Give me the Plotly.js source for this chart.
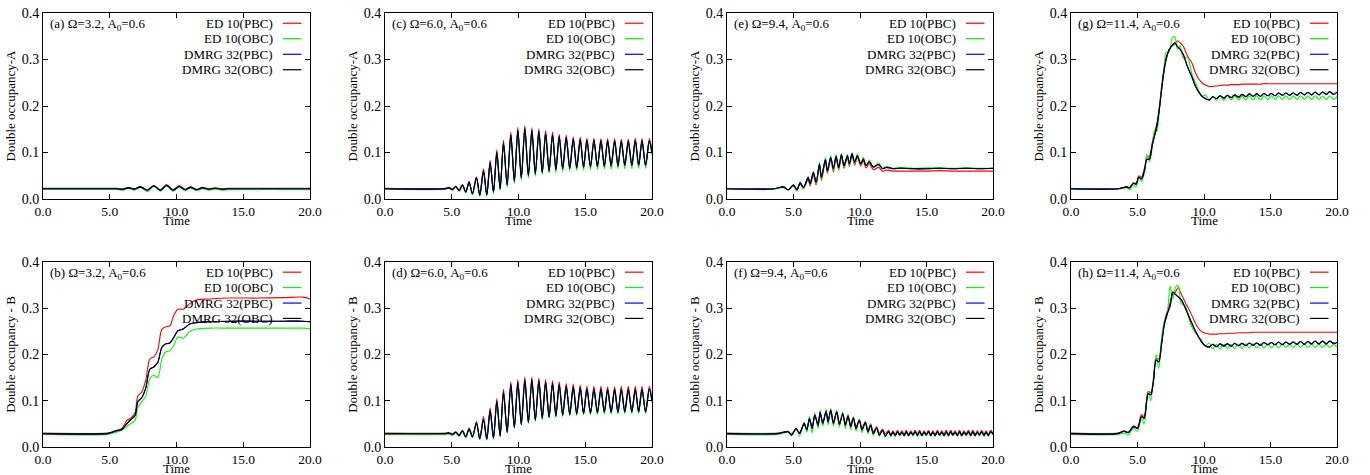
<!DOCTYPE html>
<html>
<head>
<meta charset="utf-8">
<script src="https://cdn.plot.ly/plotly-3.0.1.min.js"></script>
<style>html,body{margin:0;padding:0;background:#fff;}#chart{width:1370px;height:475px;}</style>
</head>
<body>
<div id="chart"></div>
<script>
// ---------- series names ----------
const seriesNames = ['ED 10(PBC)', 'ED 10(OBC)', 'DMRG 32(PBC)', 'DMRG 32(OBC)'];
const seriesColors = ['#ff0000', '#00ff00', '#0000ff', '#000000'];
const xTickVals = [0, 5, 10, 15, 20];
const xTickText = ['0.0', '5.0', '10.0', '15.0', '20.0'];
const yTickVals = [0, 0.1, 0.2, 0.3, 0.4];
const yTickText = ['0.0', '0.1', '0.2', '0.3', '0.4'];

// ---------- (a) Omega=3.2, A ----------
const tA = [0, 5.0, 5.5, 6.0, 6.4, 6.85, 7.3, 7.8, 8.3, 8.8, 9.25, 9.75, 10.2, 10.65, 11.05, 11.5, 11.95, 12.4, 12.9, 13.4, 13.9, 14.5, 15.0, 16.0, 17.0, 18.0, 19.0, 20.0];
const edPBC_a = [0.023, 0.023, 0.023, 0.022, 0.025, 0.022, 0.027, 0.020, 0.029, 0.020, 0.031, 0.020, 0.029, 0.021, 0.026, 0.021, 0.025, 0.022, 0.024, 0.022, 0.023, 0.023, 0.023, 0.023, 0.023, 0.023, 0.023, 0.023];
const edOBC_a = [0.021, 0.021, 0.021, 0.019, 0.023, 0.019, 0.025, 0.016, 0.027, 0.017, 0.028, 0.017, 0.026, 0.018, 0.024, 0.018, 0.022, 0.019, 0.021, 0.019, 0.020, 0.020, 0.020, 0.020, 0.021, 0.020, 0.020, 0.020];
const dmrgOBC_a = [0.022, 0.022, 0.022, 0.021, 0.024, 0.021, 0.026, 0.019, 0.028, 0.019, 0.029, 0.019, 0.027, 0.020, 0.025, 0.020, 0.024, 0.021, 0.023, 0.021, 0.022, 0.022, 0.022, 0.022, 0.022, 0.022, 0.022, 0.022];
const dmrgPBC_a = dmrgOBC_a;

// ---------- (b) Omega=3.2, B ----------
const tB = [0, 4.8, 5.2, 5.5, 5.9, 6.3, 6.6, 6.9, 7.1, 7.4, 7.7, 8.0, 8.3, 8.6, 8.9, 9.2, 9.5, 9.8, 10.1, 10.5, 11.0, 11.5, 12.5, 14.0, 16.0, 18.0, 19.5, 20.0];
const edPBC_b = [0.030, 0.030, 0.033, 0.036, 0.040, 0.058, 0.063, 0.075, 0.110, 0.119, 0.145, 0.190, 0.195, 0.210, 0.255, 0.260, 0.262, 0.285, 0.298, 0.298, 0.310, 0.318, 0.320, 0.322, 0.322, 0.323, 0.324, 0.320];
const edOBC_b = [0.027, 0.027, 0.030, 0.032, 0.036, 0.045, 0.051, 0.058, 0.085, 0.098, 0.110, 0.148, 0.155, 0.150, 0.190, 0.206, 0.208, 0.220, 0.238, 0.235, 0.250, 0.255, 0.257, 0.257, 0.257, 0.257, 0.257, 0.256];
const dmrgOBC_b = [0.029, 0.029, 0.032, 0.035, 0.038, 0.051, 0.060, 0.068, 0.098, 0.107, 0.128, 0.168, 0.173, 0.183, 0.215, 0.223, 0.225, 0.237, 0.251, 0.255, 0.266, 0.269, 0.271, 0.272, 0.272, 0.272, 0.272, 0.271];
const dmrgPBC_b = dmrgOBC_b;

// ---------- (c) Omega=6.0, A  and (d) Omega=6.0, B ----------
const tCD = [0, 4.5, 4.8, 5.05, 5.3, 5.55, 5.8, 6.05, 6.3, 6.55, 6.85, 7.1,
  7.375, 7.625, 7.875, 8.125, 8.375, 8.625, 8.875, 9.15, 9.425, 9.69, 9.95, 10.21, 10.475, 10.74, 11.0, 11.26, 11.525, 11.78,
  12.03, 12.29, 12.55, 12.8, 13.05, 13.31, 13.575, 13.84, 14.1, 14.36, 14.625, 14.875, 15.125, 15.39, 15.65, 15.91, 16.175, 16.43,
  16.675, 16.94, 17.2, 17.45, 17.7, 17.96, 18.225, 18.49, 18.75, 19.0, 19.25, 19.52, 19.8, 20.0];
const edPBC_c = [0.023, 0.023, 0.025, 0.021, 0.028, 0.019, 0.031, 0.016, 0.038, 0.012, 0.048, 0.009,
  0.065, 0.010, 0.083, 0.016, 0.106, 0.023, 0.126, 0.031, 0.144, 0.039, 0.154, 0.046, 0.158, 0.051, 0.153, 0.055, 0.151, 0.058,
  0.147, 0.061, 0.144, 0.064, 0.139, 0.066, 0.137, 0.067, 0.134, 0.068, 0.133, 0.069, 0.131, 0.070, 0.131, 0.071, 0.130, 0.071,
  0.130, 0.072, 0.130, 0.072, 0.129, 0.073, 0.129, 0.073, 0.131, 0.073, 0.130, 0.073, 0.130, 0.104];
const edOBC_c = [0.021, 0.021, 0.023, 0.019, 0.026, 0.017, 0.029, 0.013, 0.034, 0.009, 0.044, 0.006,
  0.057, 0.006, 0.074, 0.012, 0.096, 0.018, 0.116, 0.025, 0.134, 0.033, 0.144, 0.040, 0.147, 0.045, 0.143, 0.049, 0.141, 0.052,
  0.137, 0.055, 0.134, 0.057, 0.130, 0.059, 0.128, 0.060, 0.125, 0.061, 0.124, 0.062, 0.122, 0.063, 0.122, 0.063, 0.121, 0.064,
  0.121, 0.064, 0.121, 0.065, 0.120, 0.065, 0.120, 0.065, 0.122, 0.066, 0.121, 0.066, 0.121, 0.094];
const dmrgOBC_c = [0.022, 0.022, 0.024, 0.020, 0.027, 0.018, 0.030, 0.015, 0.036, 0.011, 0.046, 0.008,
  0.060, 0.009, 0.078, 0.015, 0.100, 0.022, 0.120, 0.030, 0.138, 0.038, 0.148, 0.045, 0.151, 0.050, 0.147, 0.054, 0.145, 0.057,
  0.141, 0.060, 0.138, 0.063, 0.134, 0.065, 0.132, 0.066, 0.129, 0.067, 0.128, 0.068, 0.126, 0.069, 0.126, 0.070, 0.125, 0.070,
  0.125, 0.071, 0.125, 0.071, 0.124, 0.072, 0.124, 0.072, 0.126, 0.072, 0.125, 0.072, 0.125, 0.100];
const dmrgPBC_c = dmrgOBC_c;

const edPBC_d = [0.030, 0.030, 0.031, 0.028, 0.033, 0.026, 0.036, 0.023, 0.041, 0.023, 0.055, 0.019,
  0.066, 0.018, 0.085, 0.020, 0.105, 0.025, 0.125, 0.033, 0.141, 0.043, 0.146, 0.050, 0.151, 0.054, 0.151, 0.059, 0.149, 0.063,
  0.146, 0.066, 0.143, 0.068, 0.141, 0.070, 0.137, 0.071, 0.136, 0.072, 0.134, 0.073, 0.132, 0.074, 0.131, 0.075, 0.131, 0.076,
  0.130, 0.076, 0.130, 0.076, 0.131, 0.077, 0.131, 0.077, 0.131, 0.077, 0.131, 0.077, 0.132, 0.104];
const edOBC_d = [0.027, 0.027, 0.028, 0.025, 0.030, 0.023, 0.033, 0.020, 0.037, 0.020, 0.050, 0.016,
  0.057, 0.015, 0.075, 0.017, 0.095, 0.022, 0.115, 0.030, 0.131, 0.040, 0.136, 0.047, 0.141, 0.051, 0.141, 0.056, 0.139, 0.059,
  0.136, 0.062, 0.133, 0.064, 0.131, 0.066, 0.127, 0.067, 0.126, 0.068, 0.124, 0.069, 0.122, 0.070, 0.121, 0.070, 0.121, 0.071,
  0.120, 0.071, 0.120, 0.071, 0.121, 0.072, 0.121, 0.072, 0.121, 0.072, 0.121, 0.072, 0.122, 0.096];
const dmrgOBC_d = [0.029, 0.029, 0.030, 0.027, 0.032, 0.025, 0.035, 0.022, 0.039, 0.022, 0.052, 0.018,
  0.060, 0.017, 0.079, 0.019, 0.099, 0.024, 0.119, 0.032, 0.135, 0.042, 0.140, 0.049, 0.145, 0.053, 0.145, 0.058, 0.143, 0.062,
  0.140, 0.065, 0.137, 0.067, 0.135, 0.069, 0.131, 0.070, 0.130, 0.071, 0.128, 0.072, 0.126, 0.073, 0.125, 0.074, 0.125, 0.075,
  0.124, 0.075, 0.124, 0.075, 0.125, 0.076, 0.125, 0.076, 0.125, 0.076, 0.125, 0.076, 0.126, 0.100];
const dmrgPBC_d = dmrgOBC_d;

// ---------- (e) Omega=9.4, A ----------
const tE = [0, 3.5, 4.25, 4.6, 5.0, 5.25, 5.5, 5.75, 6.1, 6.25, 6.5, 6.7, 6.95, 7.1, 7.4, 7.55, 7.8, 8.0, 8.2, 8.4,
  8.6, 8.8, 9.05, 9.2, 9.4, 9.6, 9.8, 10.05, 10.25, 10.45, 10.7, 11.0, 11.4, 11.7, 12.0, 12.5, 13.0, 14.0, 15.0, 16.0,
  17.0, 18.0, 19.0, 20.0];
const edPBC_e = [0.022, 0.022, 0.025, 0.020, 0.028, 0.019, 0.032, 0.022, 0.042, 0.028, 0.052, 0.030, 0.070, 0.040, 0.080, 0.055, 0.085, 0.058, 0.088, 0.062,
  0.092, 0.066, 0.090, 0.070, 0.094, 0.073, 0.090, 0.071, 0.082, 0.067, 0.076, 0.063, 0.068, 0.060, 0.062, 0.060, 0.060, 0.060, 0.060, 0.061,
  0.060, 0.060, 0.060, 0.060];
const edOBC_e = [0.022, 0.021, 0.026, 0.019, 0.031, 0.017, 0.037, 0.022, 0.049, 0.030, 0.060, 0.032, 0.079, 0.042, 0.089, 0.057, 0.093, 0.060, 0.096, 0.063,
  0.098, 0.068, 0.096, 0.072, 0.100, 0.075, 0.097, 0.074, 0.090, 0.071, 0.084, 0.068, 0.078, 0.066, 0.070, 0.066, 0.068, 0.066, 0.067, 0.067,
  0.066, 0.067, 0.066, 0.066];
const dmrgOBC_e = [0.022, 0.022, 0.026, 0.020, 0.030, 0.020, 0.035, 0.025, 0.046, 0.033, 0.057, 0.036, 0.075, 0.047, 0.085, 0.061, 0.089, 0.065, 0.092, 0.068,
  0.095, 0.072, 0.093, 0.076, 0.097, 0.079, 0.093, 0.076, 0.086, 0.072, 0.080, 0.069, 0.074, 0.065, 0.068, 0.065, 0.066, 0.065, 0.065, 0.066,
  0.065, 0.066, 0.065, 0.066];
const dmrgPBC_e = dmrgOBC_e;

// ---------- (f) Omega=9.4, B ----------
const tF = [0, 3.8, 4.6, 4.85, 5.2, 5.45, 5.8, 6.0, 6.2, 6.4, 6.6, 6.85, 7.0, 7.2, 7.45, 7.6, 7.8, 8.0, 8.25, 8.45,
  8.7, 8.9, 9.1, 9.3, 9.5, 9.7, 9.95, 10.15, 10.4, 10.6, 10.8, 11.0, 11.25, 11.45, 11.7, 11.9,
  12.15, 12.32, 12.48, 12.65, 12.82, 12.98, 13.15, 13.32, 13.48, 13.65, 13.82, 13.98, 14.15, 14.32, 14.48, 14.65, 14.82, 14.98,
  15.15, 15.32, 15.48, 15.65, 15.82, 15.98, 16.15, 16.32, 16.48, 16.65, 16.82, 16.98, 17.15, 17.32, 17.48, 17.65, 17.82, 17.98,
  18.15, 18.32, 18.48, 18.65, 18.82, 18.98, 19.15, 19.32, 19.48, 19.65, 19.82, 20.0];
const edPBC_f = [0.030, 0.030, 0.034, 0.028, 0.038, 0.031, 0.047, 0.040, 0.058, 0.044, 0.066, 0.051, 0.072, 0.055, 0.075, 0.058, 0.078, 0.055, 0.075, 0.053,
  0.071, 0.051, 0.067, 0.048, 0.063, 0.044, 0.059, 0.041, 0.055, 0.037, 0.050, 0.033, 0.044, 0.030, 0.039, 0.028,
  0.036, 0.027, 0.035, 0.027, 0.036, 0.028, 0.035, 0.027, 0.036, 0.027, 0.035, 0.028, 0.036, 0.027, 0.036, 0.027, 0.035, 0.028,
  0.036, 0.027, 0.035, 0.027, 0.036, 0.028, 0.035, 0.027, 0.036, 0.027, 0.036, 0.028, 0.035, 0.027, 0.036, 0.027, 0.035, 0.028,
  0.036, 0.027, 0.036, 0.027, 0.035, 0.028, 0.036, 0.027, 0.035, 0.027, 0.036, 0.030];
const edOBC_f = [0.027, 0.027, 0.032, 0.024, 0.041, 0.024, 0.054, 0.032, 0.066, 0.030, 0.074, 0.040, 0.080, 0.045, 0.082, 0.048, 0.083, 0.045, 0.080, 0.043,
  0.076, 0.040, 0.071, 0.037, 0.066, 0.034, 0.061, 0.031, 0.055, 0.028, 0.049, 0.025, 0.043, 0.023, 0.037, 0.022,
  0.032, 0.023, 0.031, 0.023, 0.032, 0.024, 0.031, 0.023, 0.032, 0.023, 0.031, 0.024, 0.032, 0.023, 0.032, 0.023, 0.031, 0.024,
  0.032, 0.023, 0.031, 0.023, 0.032, 0.024, 0.031, 0.023, 0.032, 0.023, 0.032, 0.024, 0.031, 0.023, 0.032, 0.023, 0.031, 0.024,
  0.032, 0.023, 0.032, 0.023, 0.031, 0.024, 0.032, 0.023, 0.031, 0.023, 0.032, 0.026];
const dmrgOBC_f = [0.029, 0.029, 0.033, 0.026, 0.040, 0.029, 0.051, 0.037, 0.062, 0.040, 0.069, 0.047, 0.075, 0.051, 0.077, 0.054, 0.080, 0.051, 0.076, 0.049,
  0.072, 0.047, 0.067, 0.044, 0.063, 0.040, 0.058, 0.037, 0.053, 0.033, 0.047, 0.029, 0.041, 0.026, 0.036, 0.024,
  0.033, 0.025, 0.032, 0.025, 0.033, 0.026, 0.032, 0.025, 0.033, 0.025, 0.032, 0.026, 0.033, 0.025, 0.033, 0.025, 0.032, 0.026,
  0.033, 0.025, 0.032, 0.025, 0.033, 0.026, 0.032, 0.025, 0.033, 0.025, 0.033, 0.026, 0.032, 0.025, 0.033, 0.025, 0.032, 0.026,
  0.033, 0.025, 0.033, 0.025, 0.032, 0.026, 0.033, 0.025, 0.032, 0.025, 0.033, 0.028];
const dmrgPBC_f = dmrgOBC_f;

// ---------- (g) Omega=11.4, A ----------
const tG = [0, 3.5, 4.2, 4.4, 4.7, 4.9, 5.1, 5.3, 5.55, 5.7, 5.9, 6.1, 6.3, 6.45, 6.65, 6.8, 6.95, 7.15, 7.4, 7.6,
  7.8, 8.0, 8.2, 8.45, 8.75, 9.1, 9.35, 9.6, 9.85, 10.1, 10.4,
  10.65, 10.95, 11.2, 11.5, 11.75, 12.05, 12.3, 12.6, 12.85, 13.15, 13.4, 13.7, 13.95, 14.25, 14.5, 14.8, 15.05, 15.35, 15.6, 15.9,
  16.15, 16.45, 16.7, 17.0, 17.25, 17.55, 17.8, 18.1, 18.35, 18.65, 18.9, 19.2, 19.45, 19.75, 20.0];
const edPBC_g = [0.022, 0.022, 0.026, 0.025, 0.035, 0.034, 0.050, 0.047, 0.070, 0.090, 0.092, 0.120, 0.145, 0.162, 0.200, 0.238, 0.272, 0.305, 0.322, 0.330,
  0.332, 0.340, 0.336, 0.328, 0.308, 0.292, 0.272, 0.258, 0.250, 0.245, 0.242,
  0.242, 0.243, 0.244, 0.245, 0.245, 0.246, 0.246, 0.246, 0.247, 0.247, 0.247, 0.247, 0.247, 0.247, 0.248, 0.248, 0.248, 0.248, 0.248, 0.248,
  0.248, 0.248, 0.248, 0.248, 0.248, 0.248, 0.248, 0.248, 0.248, 0.248, 0.248, 0.248, 0.248, 0.248, 0.248];
const edOBC_g = [0.021, 0.021, 0.024, 0.020, 0.030, 0.026, 0.048, 0.038, 0.060, 0.096, 0.080, 0.108, 0.150, 0.145, 0.195, 0.240, 0.262, 0.315, 0.318, 0.345,
  0.350, 0.322, 0.330, 0.302, 0.305, 0.268, 0.250, 0.234, 0.220, 0.224, 0.212,
  0.221, 0.212, 0.222, 0.212, 0.222, 0.213, 0.222, 0.213, 0.222, 0.213, 0.222, 0.213, 0.222, 0.213, 0.222, 0.214, 0.222, 0.214, 0.222, 0.214,
  0.222, 0.214, 0.222, 0.214, 0.222, 0.214, 0.222, 0.214, 0.222, 0.214, 0.222, 0.214, 0.222, 0.214, 0.220];
const dmrgOBC_g = [0.022, 0.022, 0.026, 0.024, 0.034, 0.032, 0.047, 0.043, 0.065, 0.085, 0.086, 0.115, 0.138, 0.155, 0.195, 0.232, 0.268, 0.300, 0.322, 0.330,
  0.336, 0.328, 0.322, 0.310, 0.285, 0.262, 0.243, 0.230, 0.221, 0.216, 0.213,
  0.220, 0.216, 0.222, 0.217, 0.223, 0.218, 0.224, 0.219, 0.225, 0.220, 0.226, 0.221, 0.226, 0.221, 0.227, 0.222, 0.227, 0.222, 0.228, 0.223,
  0.228, 0.223, 0.228, 0.223, 0.229, 0.224, 0.229, 0.224, 0.230, 0.224, 0.230, 0.225, 0.231, 0.225, 0.230];
const dmrgPBC_g = dmrgOBC_g;

// ---------- (h) Omega=11.4, B ----------
const tH = [0, 3.5, 4.0, 4.3, 4.7, 5.0, 5.3, 5.5, 5.8, 6.0, 6.2, 6.4, 6.6, 6.8, 7.0, 7.2, 7.45, 7.65, 7.85, 8.05,
  8.3, 8.6, 9.0, 9.4, 9.8, 10.1, 10.4,
  10.65, 10.95, 11.2, 11.5, 11.75, 12.05, 12.3, 12.6, 12.85, 13.15, 13.4, 13.7, 13.95, 14.25, 14.5, 14.8, 15.05, 15.35, 15.6, 15.9,
  16.15, 16.45, 16.7, 17.0, 17.25, 17.55, 17.8, 18.1, 18.35, 18.65, 18.9, 19.2, 19.45, 19.75, 20.0];
const edPBC_h = [0.030, 0.030, 0.035, 0.032, 0.046, 0.042, 0.070, 0.066, 0.120, 0.118, 0.148, 0.192, 0.190, 0.228, 0.268, 0.290, 0.312, 0.330, 0.335, 0.345,
  0.330, 0.312, 0.290, 0.265, 0.250, 0.246, 0.244,
  0.244, 0.244, 0.245, 0.245, 0.246, 0.246, 0.246, 0.247, 0.247, 0.247, 0.247, 0.248, 0.248, 0.248, 0.248, 0.248, 0.248, 0.248, 0.248, 0.248,
  0.248, 0.248, 0.248, 0.248, 0.248, 0.248, 0.248, 0.248, 0.248, 0.248, 0.248, 0.248, 0.248, 0.248, 0.248];
const edOBC_h = [0.027, 0.027, 0.030, 0.026, 0.040, 0.034, 0.062, 0.050, 0.120, 0.100, 0.150, 0.200, 0.170, 0.230, 0.270, 0.280, 0.348, 0.320, 0.345, 0.350,
  0.310, 0.305, 0.265, 0.245, 0.232, 0.218, 0.225,
  0.212, 0.222, 0.212, 0.222, 0.213, 0.222, 0.213, 0.223, 0.213, 0.223, 0.214, 0.223, 0.214, 0.223, 0.214, 0.223, 0.214, 0.223, 0.214, 0.223,
  0.215, 0.223, 0.215, 0.223, 0.215, 0.223, 0.215, 0.223, 0.215, 0.222, 0.215, 0.222, 0.215, 0.222, 0.216];
const dmrgOBC_h = [0.029, 0.029, 0.034, 0.031, 0.044, 0.040, 0.066, 0.062, 0.115, 0.113, 0.142, 0.188, 0.184, 0.220, 0.262, 0.285, 0.305, 0.335, 0.330, 0.325,
  0.318, 0.300, 0.273, 0.248, 0.228, 0.219, 0.216,
  0.222, 0.217, 0.223, 0.218, 0.223, 0.218, 0.224, 0.219, 0.224, 0.219, 0.225, 0.220, 0.225, 0.220, 0.226, 0.221, 0.226, 0.221, 0.227, 0.221,
  0.227, 0.222, 0.227, 0.222, 0.228, 0.222, 0.228, 0.223, 0.229, 0.223, 0.229, 0.223, 0.229, 0.224, 0.226];
const dmrgPBC_h = dmrgOBC_h;

// ---------- panels ----------
const panels = [
  {t: tA, ys: [edPBC_a, edOBC_a, dmrgPBC_a, dmrgOBC_a], col: 0, row: 0, label: '(a) Ω=3.2, A<sub>0</sub>=0.6', ytitle: 'Double occupancy-A'},
  {t: tB, ys: [edPBC_b, edOBC_b, dmrgPBC_b, dmrgOBC_b], col: 0, row: 1, label: '(b) Ω=3.2, A<sub>0</sub>=0.6', ytitle: 'Double occupancy - B'},
  {t: tCD, ys: [edPBC_c, edOBC_c, dmrgPBC_c, dmrgOBC_c], col: 1, row: 0, label: '(c) Ω=6.0, A<sub>0</sub>=0.6', ytitle: 'Double occupancy-A'},
  {t: tCD, ys: [edPBC_d, edOBC_d, dmrgPBC_d, dmrgOBC_d], col: 1, row: 1, label: '(d) Ω=6.0, A<sub>0</sub>=0.6', ytitle: 'Double occupancy - B'},
  {t: tE, ys: [edPBC_e, edOBC_e, dmrgPBC_e, dmrgOBC_e], col: 2, row: 0, label: '(e) Ω=9.4, A<sub>0</sub>=0.6', ytitle: 'Double occupancy-A'},
  {t: tF, ys: [edPBC_f, edOBC_f, dmrgPBC_f, dmrgOBC_f], col: 2, row: 1, label: '(f) Ω=9.4, A<sub>0</sub>=0.6', ytitle: 'Double occupancy - B'},
  {t: tG, ys: [edPBC_g, edOBC_g, dmrgPBC_g, dmrgOBC_g], col: 3, row: 0, label: '(g) Ω=11.4, A<sub>0</sub>=0.6', ytitle: 'Double occupancy-A'},
  {t: tH, ys: [edPBC_h, edOBC_h, dmrgPBC_h, dmrgOBC_h], col: 3, row: 1, label: '(h) Ω=11.4, A<sub>0</sub>=0.6', ytitle: 'Double occupancy - B'}
];

const W = 1370, H = 475;
const colPx = [[43, 310], [385, 652], [727, 993], [1071, 1337]];
const rowPx = [[13, 199], [262, 447]];
const FONT = "'Liberation Serif', 'Times New Roman', serif";

const data = [];
const layout = {
  width: W, height: H,
  margin: {l: 0, r: 0, t: 0, b: 0},
  paper_bgcolor: '#ffffff', plot_bgcolor: '#ffffff',
  showlegend: false,
  font: {family: FONT, size: 13, color: '#000'},
  annotations: [], shapes: []
};

const legendRowsY = [0.945, 0.862, 0.778, 0.695];

panels.forEach((p, i) => {
  const n = i + 1;
  const xa = n === 1 ? 'x' : 'x' + n;
  const ya = n === 1 ? 'y' : 'y' + n;
  const xKey = n === 1 ? 'xaxis' : 'xaxis' + n;
  const yKey = n === 1 ? 'yaxis' : 'yaxis' + n;
  const cx = colPx[p.col], ry = rowPx[p.row];
  const hPx = ry[1] - ry[0];
  layout[xKey] = {
    domain: [cx[0] / W, cx[1] / W], anchor: ya, range: [0, 20],
    tickvals: xTickVals, ticktext: xTickText, ticks: 'inside', ticklen: 5, tickwidth: 1, tickcolor: '#000',
    showline: true, linecolor: '#000', linewidth: 1, mirror: 'allticks', showgrid: false, zeroline: false,
    tickfont: {family: FONT, size: 13.5}, fixedrange: true
  };
  layout[yKey] = {
    domain: [1 - ry[1] / H, 1 - ry[0] / H], anchor: xa, range: [0, 0.4],
    tickvals: yTickVals, ticktext: yTickText, ticks: 'inside', ticklen: 5, tickwidth: 1, tickcolor: '#000',
    showline: true, linecolor: '#000', linewidth: 1, mirror: 'allticks', showgrid: false, zeroline: false,
    tickfont: {family: FONT, size: 14}, fixedrange: true,
    title: {text: p.ytitle, font: {family: FONT, size: 13}, standoff: 3}
  };
  p.ys.forEach((yv, k) => {
    data.push({
      type: 'scatter', mode: 'lines', x: p.t, y: yv, xaxis: xa, yaxis: ya,
      name: seriesNames[k], showlegend: false,
      line: {color: seriesColors[k], width: 1.1, shape: 'spline', smoothing: 0.8},
      hoverinfo: 'skip'
    });
  });
  // x-axis title, sitting tight under the tick labels as in the reference
  layout.annotations.push({
    xref: xa + ' domain', yref: ya + ' domain', x: 0.5, y: -21.5 / hPx, xanchor: 'center', yanchor: 'middle',
    text: 'Time', showarrow: false, font: {family: FONT, size: 13}, borderpad: 0
  });
  // panel label
  layout.annotations.push({
    xref: xa + ' domain', yref: ya + ' domain', x: 0.018, y: 0.995, xanchor: 'left', yanchor: 'top',
    text: p.label, showarrow: false, font: {family: FONT, size: 13}
  });
  // gnuplot-style key: right aligned text then sample line
  seriesNames.forEach((nm, k) => {
    layout.annotations.push({
      xref: xa + ' domain', yref: ya + ' domain', x: 0.87, y: legendRowsY[k], xanchor: 'right', yanchor: 'middle',
      text: nm, showarrow: false, font: {family: FONT, size: 13}
    });
    layout.shapes.push({
      type: 'line', xref: xa + ' domain', yref: ya + ' domain',
      x0: 0.898, x1: 0.968, y0: legendRowsY[k], y1: legendRowsY[k],
      line: {color: seriesColors[k], width: 1.2}
    });
  });
});

Plotly.newPlot('chart', data, layout, {displayModeBar: false, staticPlot: true});
</script>
</body>
</html>
